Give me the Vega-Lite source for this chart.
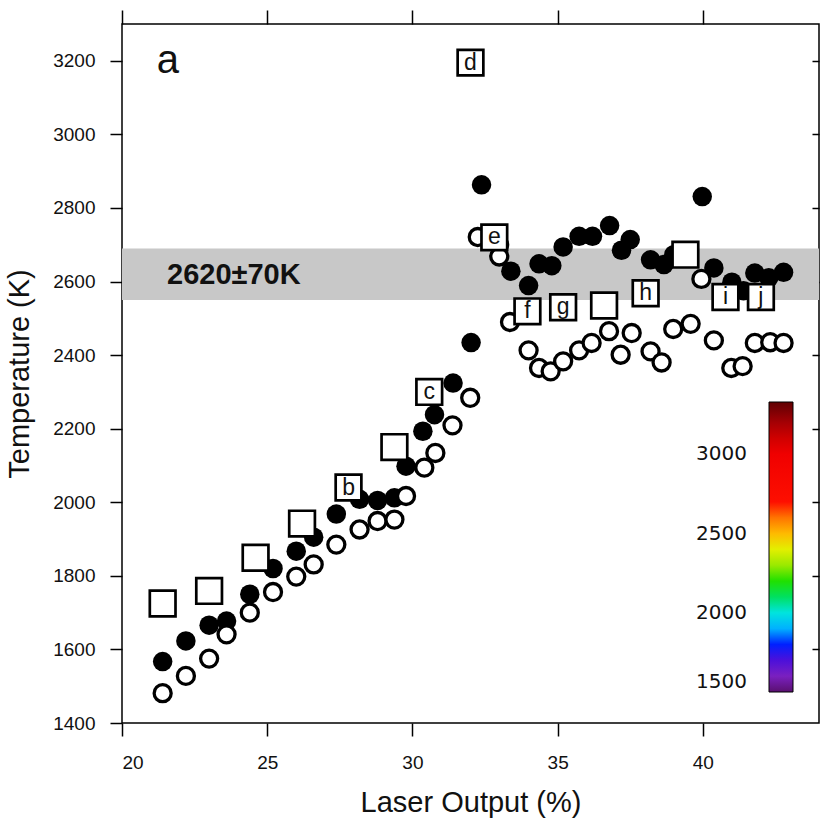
{
  "$schema": "https://vega.github.io/schema/vega-lite/v6.json",
  "width": 697,
  "height": 699,
  "autosize": {"type": "none"},
  "padding": {"left": 122, "top": 24, "right": 7, "bottom": 98},
  "background": "white",
  "config": {
    "view": {"stroke": "black", "strokeWidth": 1.5},
    "axis": {
      "domain": false,
      "grid": false,
      "tickColor": "black",
      "tickWidth": 1.5,
      "labelFont": "Liberation Sans",
      "labelFontSize": 19,
      "labelColor": "#111",
      "titleFont": "Liberation Sans",
      "titleFontSize": 29,
      "titleFontWeight": "normal",
      "titleColor": "#111",
      "format": "d"
    },
    "legend": {"padding": 0}
  },
  "datasets": {
    "filled": [
      {"laser": 21.4, "temp": 1567}, {"laser": 22.2, "temp": 1623}, {"laser": 23.0, "temp": 1666},
      {"laser": 23.6, "temp": 1677}, {"laser": 24.4, "temp": 1750}, {"laser": 25.2, "temp": 1820},
      {"laser": 26.0, "temp": 1867}, {"laser": 26.6, "temp": 1905}, {"laser": 27.38, "temp": 1968},
      {"laser": 28.18, "temp": 2008}, {"laser": 28.8, "temp": 2005}, {"laser": 29.38, "temp": 2012},
      {"laser": 29.78, "temp": 2098}, {"laser": 30.36, "temp": 2193}, {"laser": 30.76, "temp": 2238},
      {"laser": 31.4, "temp": 2324}, {"laser": 32.02, "temp": 2434}, {"laser": 32.38, "temp": 2863},
      {"laser": 33.0, "temp": 2700}, {"laser": 33.39, "temp": 2628}, {"laser": 34.0, "temp": 2589},
      {"laser": 34.36, "temp": 2648}, {"laser": 34.8, "temp": 2643}, {"laser": 35.19, "temp": 2694},
      {"laser": 35.74, "temp": 2723}, {"laser": 36.2, "temp": 2723}, {"laser": 36.79, "temp": 2752},
      {"laser": 37.2, "temp": 2685}, {"laser": 37.5, "temp": 2714}, {"laser": 38.2, "temp": 2659},
      {"laser": 38.66, "temp": 2646}, {"laser": 39.0, "temp": 2673}, {"laser": 39.98, "temp": 2831},
      {"laser": 40.38, "temp": 2637}, {"laser": 41.0, "temp": 2598}, {"laser": 41.4, "temp": 2575},
      {"laser": 41.79, "temp": 2623}, {"laser": 42.27, "temp": 2610}, {"laser": 42.78, "temp": 2625}
    ],
    "open": [
      {"laser": 21.4, "temp": 1481}, {"laser": 22.2, "temp": 1528}, {"laser": 23.0, "temp": 1575},
      {"laser": 23.6, "temp": 1641}, {"laser": 24.4, "temp": 1700}, {"laser": 25.2, "temp": 1756},
      {"laser": 26.0, "temp": 1798}, {"laser": 26.6, "temp": 1831}, {"laser": 27.38, "temp": 1885},
      {"laser": 28.18, "temp": 1926}, {"laser": 28.8, "temp": 1949}, {"laser": 29.38, "temp": 1953},
      {"laser": 29.78, "temp": 2017}, {"laser": 30.41, "temp": 2094}, {"laser": 30.79, "temp": 2134},
      {"laser": 31.38, "temp": 2209}, {"laser": 31.99, "temp": 2284}, {"laser": 32.25, "temp": 2721},
      {"laser": 32.99, "temp": 2668}, {"laser": 33.36, "temp": 2490}, {"laser": 34.0, "temp": 2413},
      {"laser": 34.36, "temp": 2365}, {"laser": 34.76, "temp": 2356}, {"laser": 35.19, "temp": 2383},
      {"laser": 35.74, "temp": 2413}, {"laser": 36.17, "temp": 2433}, {"laser": 36.77, "temp": 2465},
      {"laser": 37.17, "temp": 2401}, {"laser": 37.55, "temp": 2460}, {"laser": 38.2, "temp": 2410},
      {"laser": 38.58, "temp": 2380}, {"laser": 38.98, "temp": 2471}, {"laser": 39.58, "temp": 2485},
      {"laser": 39.95, "temp": 2607}, {"laser": 40.38, "temp": 2440}, {"laser": 40.98, "temp": 2365},
      {"laser": 41.37, "temp": 2370}, {"laser": 41.79, "temp": 2433}, {"laser": 42.32, "temp": 2435},
      {"laser": 42.78, "temp": 2433}
    ],
    "squares": [
      {"laser": 21.4, "temp": 1725, "label": ""}, {"laser": 23.0, "temp": 1759, "label": ""},
      {"laser": 24.6, "temp": 1849, "label": ""}, {"laser": 26.2, "temp": 1942, "label": ""},
      {"laser": 27.8, "temp": 2040, "label": "b"}, {"laser": 29.38, "temp": 2150, "label": ""},
      {"laser": 30.58, "temp": 2300, "label": "c"}, {"laser": 32.0, "temp": 3195, "label": "d"},
      {"laser": 32.82, "temp": 2720, "label": "e"}, {"laser": 33.96, "temp": 2519, "label": "f"},
      {"laser": 35.19, "temp": 2530, "label": "g"}, {"laser": 36.6, "temp": 2535, "label": ""},
      {"laser": 38.03, "temp": 2568, "label": "h"}, {"laser": 39.4, "temp": 2673, "label": ""},
      {"laser": 40.78, "temp": 2558, "label": "i"}, {"laser": 42.0, "temp": 2558, "label": "j"}
    ],
    "band": [{"lo": 2550, "hi": 2690, "label": "2620±70K"}],
    "panel": [{"label": "a"}],
    "colorbar": [{"T": 1500}, {"T": 3330}]
  },
  "resolve": {"axis": {"x": "independent", "y": "independent"}},
  "layer": [
    {
      "data": {"name": "band"},
      "mark": {"type": "rect", "color": "#c8c8c8"},
      "encoding": {
        "x": {"datum": 20, "type": "quantitative", "scale": {"domain": [20, 44], "nice": false, "zero": false}, "axis": null},
        "x2": {"datum": 44},
        "y": {"field": "lo", "type": "quantitative", "scale": {"domain": [1400, 3300], "nice": false, "zero": false}, "axis": null},
        "y2": {"field": "hi"}
      }
    },
    {
      "data": {"name": "band"},
      "mark": {"type": "text", "font": "Liberation Sans", "fontSize": 29, "fontWeight": "bold", "align": "left", "baseline": "middle", "dy": 1, "color": "#111"},
      "encoding": {
        "x": {"datum": 21.55, "type": "quantitative", "axis": null},
        "y": {"datum": 2620, "type": "quantitative", "axis": null},
        "text": {"field": "label"}
      }
    },
    {
      "data": {"name": "filled"},
      "mark": {"type": "point", "shape": "circle", "filled": true, "color": "black", "opacity": 1, "size": 380},
      "encoding": {
        "x": {"field": "laser", "type": "quantitative", "axis": {"orient": "bottom", "title": "Laser Output (%)", "values": [20, 25, 30, 35, 40], "tickSize": 13, "labelFontSize": 19, "labelPadding": 17, "titlePadding": 16}},
        "y": {"field": "temp", "type": "quantitative", "axis": {"orient": "left", "title": "Temperature (K)", "values": [1400, 1600, 1800, 2000, 2200, 2400, 2600, 2800, 3000, 3200], "tickSize": 12, "labelFontSize": 19, "labelPadding": 15, "titlePadding": 18}}
      }
    },
    {
      "data": {"name": "open"},
      "mark": {"type": "point", "shape": "circle", "filled": false, "fill": "white", "stroke": "black", "strokeWidth": 3.3, "opacity": 1, "size": 290},
      "encoding": {
        "x": {"field": "laser", "type": "quantitative", "axis": {"orient": "top", "title": null, "labels": false, "values": [20, 25, 30, 35, 40], "tickSize": 14}},
        "y": {"field": "temp", "type": "quantitative", "axis": {"orient": "right", "title": null, "labels": false, "values": [1600, 1800, 2000, 2200, 2400, 2600, 2800, 3000, 3200], "tickSize": -7}}
      }
    },
    {
      "data": {"name": "squares"},
      "mark": {"type": "point", "shape": "square", "filled": false, "fill": "white", "stroke": "black", "strokeWidth": 2.7, "opacity": 1, "size": 660},
      "encoding": {
        "x": {"field": "laser", "type": "quantitative", "axis": null},
        "y": {"field": "temp", "type": "quantitative", "axis": null}
      }
    },
    {
      "data": {"name": "squares"},
      "mark": {"type": "text", "font": "Liberation Sans", "fontSize": 23, "align": "center", "baseline": "middle", "dy": 0, "color": "#111"},
      "encoding": {
        "x": {"field": "laser", "type": "quantitative", "axis": null},
        "y": {"field": "temp", "type": "quantitative", "axis": null},
        "text": {"field": "label"}
      }
    },
    {
      "data": {"name": "panel"},
      "mark": {"type": "text", "font": "Liberation Sans", "fontSize": 40, "align": "left", "baseline": "alphabetic", "color": "#111"},
      "encoding": {
        "x": {"datum": 21.2, "type": "quantitative", "axis": null},
        "y": {"datum": 3167, "type": "quantitative", "axis": null},
        "text": {"field": "label"}
      }
    },
    {
      "data": {"name": "colorbar"},
      "mark": {"type": "point", "opacity": 0, "filled": true},
      "encoding": {
        "x": {"datum": 30, "type": "quantitative", "axis": null},
        "y": {"datum": 2000, "type": "quantitative", "axis": null},
        "color": {
          "field": "T",
          "type": "quantitative",
          "scale": {
            "domain": [1500, 1600, 1720, 1800, 1950, 2100, 2200, 2420, 2560, 2680, 3000, 3150, 3330],
            "range": ["#5a1070", "#7a20c0", "#3a10e0", "#0020ff", "#00e0ff", "#00e060", "#20e000", "#f0f000", "#ff9000", "#ff1000", "#f00000", "#c00000", "#600000"]
          },
          "legend": {
            "orient": "none",
            "legendX": 647,
            "legendY": 378,
            "direction": "vertical",
            "title": null,
            "gradientLength": 290,
            "gradientThickness": 24,
            "gradientStrokeColor": "black",
            "gradientStrokeWidth": 1,
            "values": [1500, 2000, 2500, 3000],
            "format": "d",
            "labelFont": "DejaVu Sans",
            "labelFontSize": 20,
            "labelColor": "#111",
            "labelOffset": -97,
            "labelOverlap": false,
            "encode": {"gradient": {"update": {"opacity": {"value": 1}}}}
          }
        }
      }
    }
  ]
}
